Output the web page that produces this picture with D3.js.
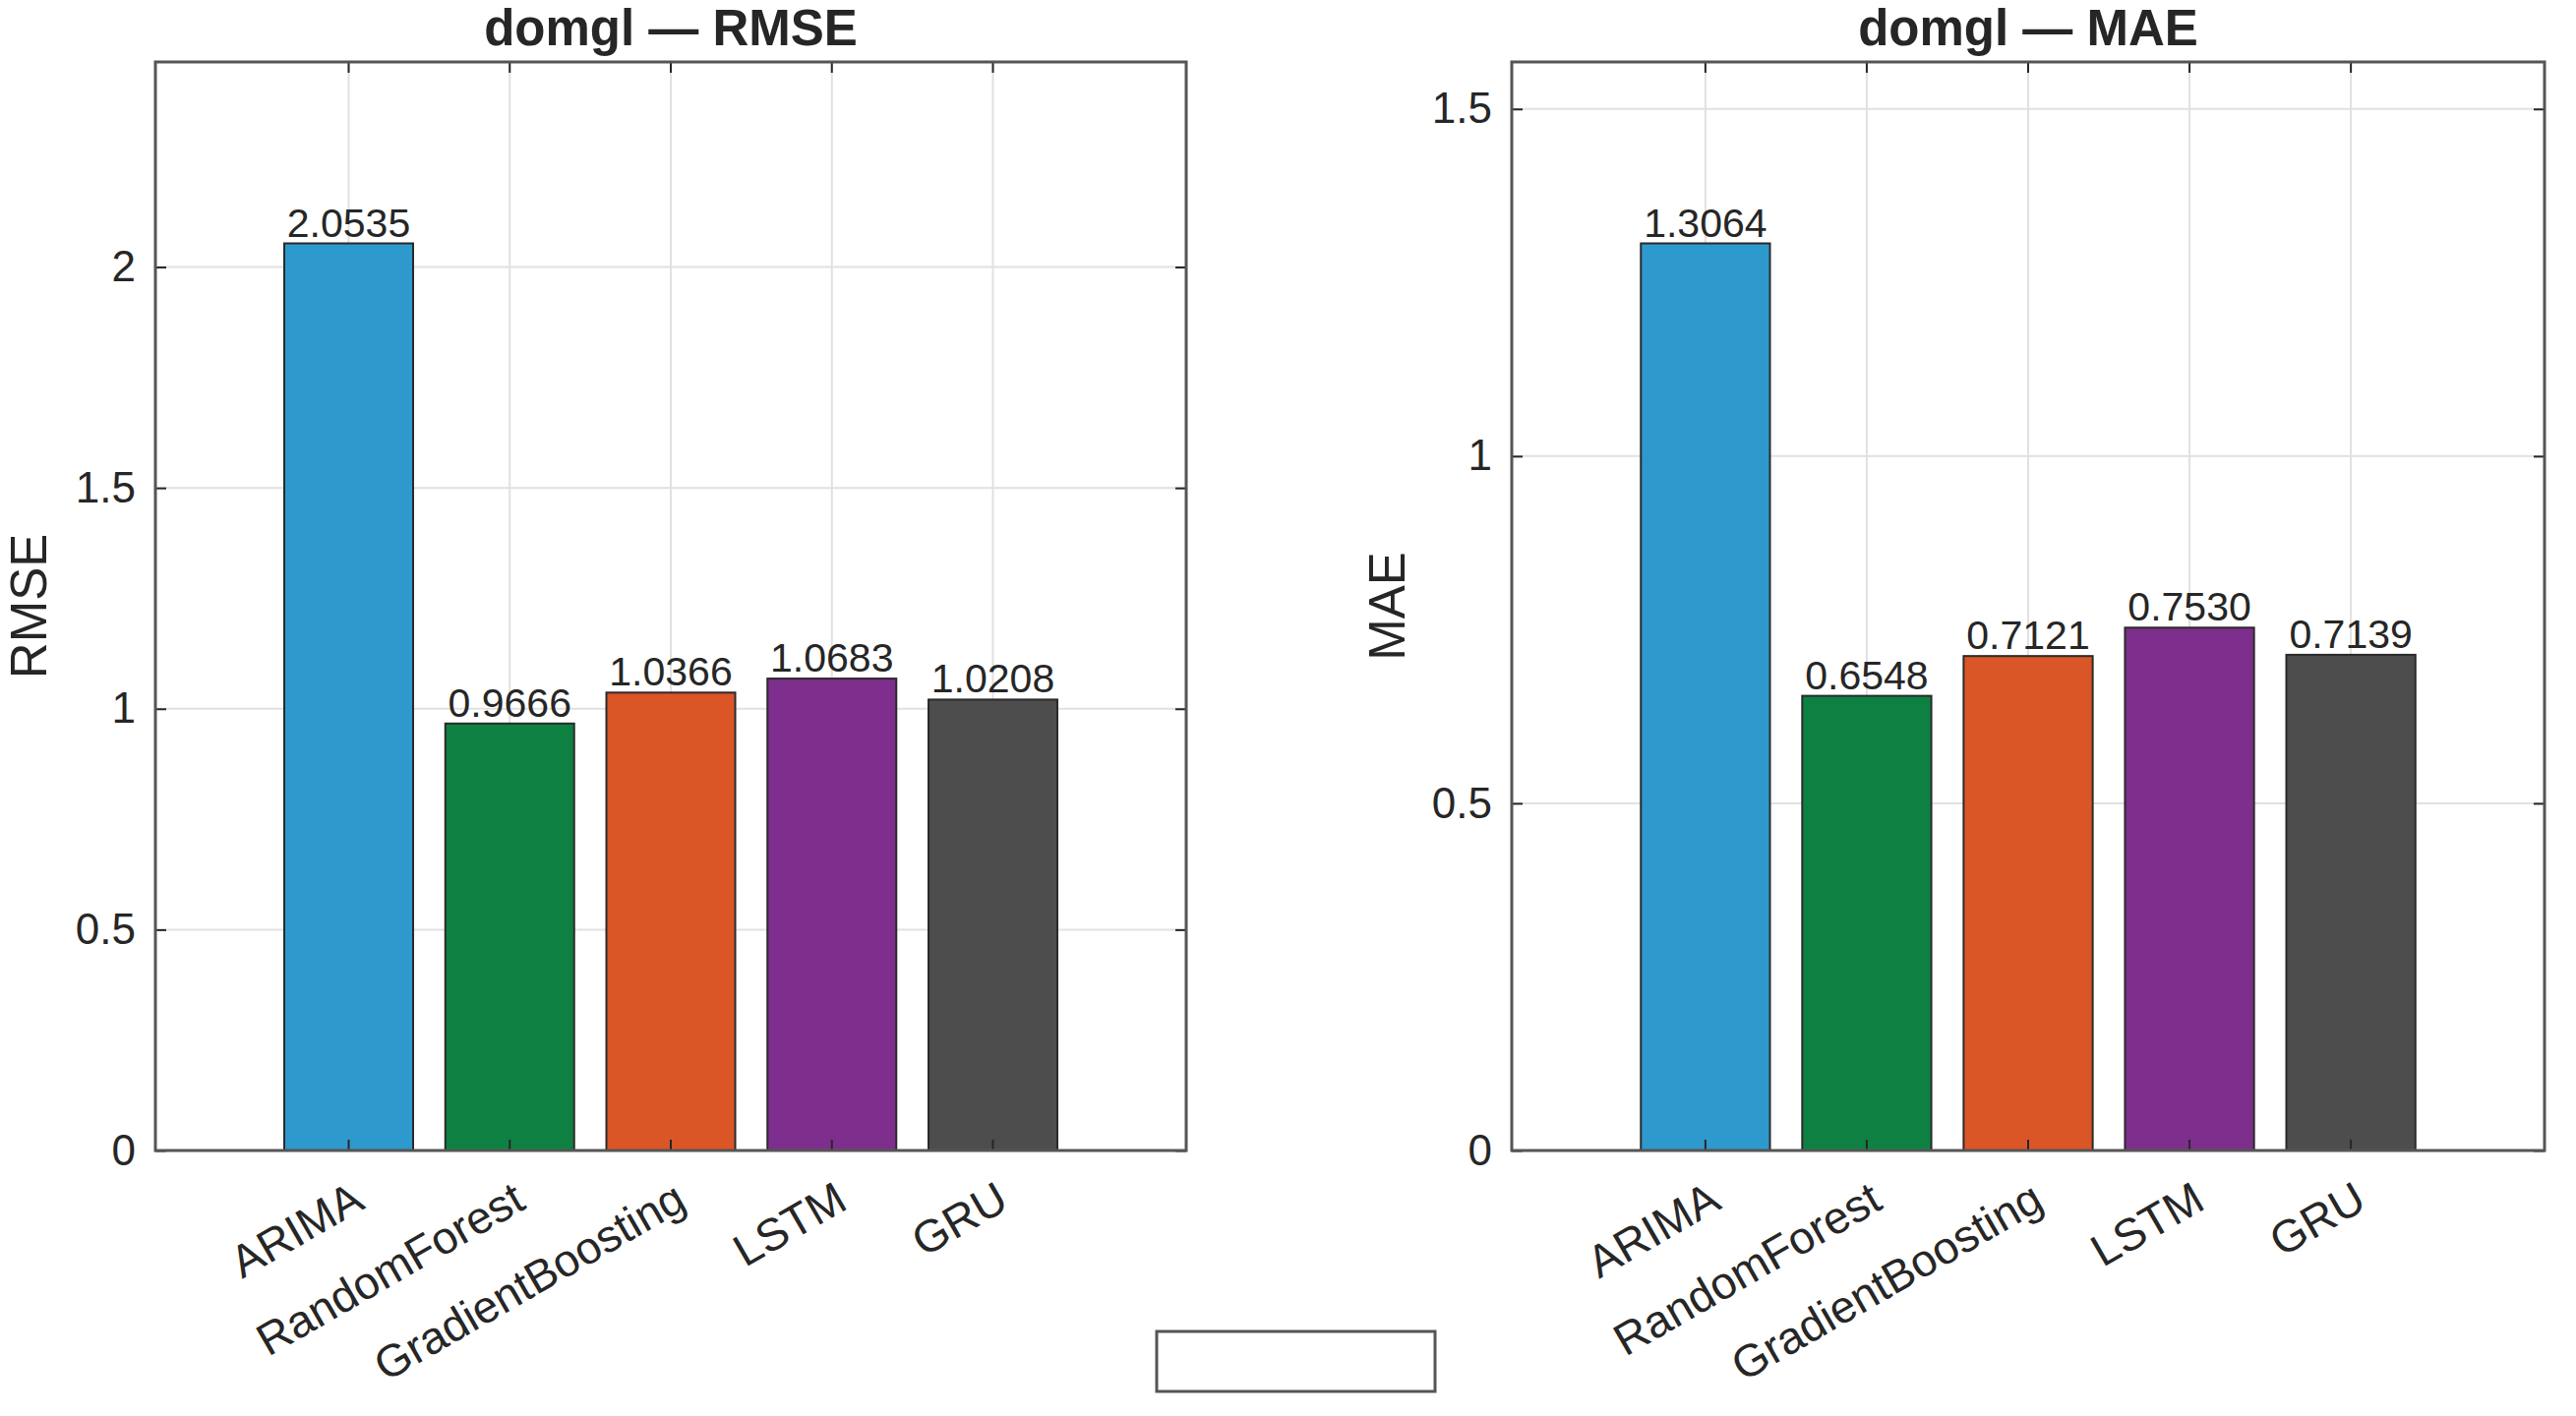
<!DOCTYPE html>
<html>
<head>
<meta charset="utf-8">
<script src="https://cdn.jsdelivr.net/npm/d3@7"></script>
<style>
  body { margin: 0; background: #fff; }
  text { font-family: "Liberation Sans", Arial, Helvetica, sans-serif; fill: #262626; }
</style>
</head>
<body>
<script>
// models compared
var models = ["ARIMA", "RandomForest", "GradientBoosting", "LSTM", "GRU"];

// metric values per model
var rmseValues = [2.0535, 0.9666, 1.0366, 1.0683, 1.0208];
var maeValues = [1.3064, 0.6548, 0.7121, 0.7530, 0.7139];

// y tick values
var rmseTicks = [0, 0.5, 1, 1.5, 2];
var maeTicks = [0, 0.5, 1, 1.5];

var barColors = ["#2e99cd", "#0e8142", "#da5626", "#7e2e8d", "#4d4d4d"];

//Width and height
var w = 2619;
var h = 1440;

var svg = d3.select("body")
            .append("svg")
            .attr("width", w)
            .attr("height", h);

var panels = [
  { name: "RMSE", values: rmseValues, ticks: rmseTicks, left: 158, right: 1206, labelX: 47 },
  { name: "MAE", values: maeValues, ticks: maeTicks, left: 1537, right: 2587, labelX: 1428 }
];
var plotTop = 63, plotBottom = 1170;

panels.forEach(function(p) {
    var g = svg.append("g");

    var xScale = d3.scaleBand()
                   .domain(models)
                   .range([p.left, p.right])
                   .paddingInner(0.2)
                   .paddingOuter(0.8);

    var yScale = d3.scaleLinear()
                   .domain([0, d3.max(p.values) * 1.2])
                   .range([plotBottom, plotTop]);

    //grid
    g.selectAll(".hgrid")
     .data(p.ticks)
     .enter()
     .append("line")
     .attr("x1", p.left).attr("x2", p.right)
     .attr("y1", function(d) { return yScale(d); })
     .attr("y2", function(d) { return yScale(d); })
     .attr("stroke", "#e1e1e1")
     .attr("stroke-width", 2);

    g.selectAll(".vgrid")
     .data(models)
     .enter()
     .append("line")
     .attr("x1", function(d) { return xScale(d) + xScale.bandwidth() / 2; })
     .attr("x2", function(d) { return xScale(d) + xScale.bandwidth() / 2; })
     .attr("y1", plotTop).attr("y2", plotBottom)
     .attr("stroke", "#e1e1e1")
     .attr("stroke-width", 2);

    //bars
    g.selectAll(".bar")
     .data(p.values)
     .enter()
     .append("rect")
     .attr("x", function(d, i) { return xScale(models[i]); })
     .attr("y", function(d) { return yScale(d); })
     .attr("width", xScale.bandwidth())
     .attr("height", function(d) { return plotBottom - yScale(d); })
     .attr("fill", function(d, i) { return barColors[i]; })
     .attr("stroke", "#2a2a2a")
     .attr("stroke-width", 2);

    //value labels
    g.selectAll(".val")
     .data(p.values)
     .enter()
     .append("text")
     .attr("x", function(d, i) { return xScale(models[i]) + xScale.bandwidth() / 2; })
     .attr("y", function(d) { return yScale(d) - 7; })
     .attr("text-anchor", "middle")
     .style("font-size", "41px")
     .text(function(d) { return d.toFixed(4); });

    //axes: left/bottom with labels, top/right ticks only
    var yAxis = d3.axisLeft(yScale).tickValues(p.ticks).tickSize(-11).tickPadding(20)
                  .tickFormat(function(d) { return d3.format("")(d); });
    var yAxisR = d3.axisRight(yScale).tickValues(p.ticks).tickSize(-11).tickFormat("");
    var xAxis = d3.axisBottom(xScale).tickSize(-11).tickFormat("");
    var xAxisT = d3.axisTop(xScale).tickSize(-11).tickFormat("");

    var ay = g.append("g").attr("transform", "translate(" + p.left + ",0)").call(yAxis);
    ay.selectAll("text").style("font-size", "44px").attr("fill", "#262626");
    g.append("g").attr("transform", "translate(" + p.right + ",0)").call(yAxisR);
    g.append("g").attr("transform", "translate(0," + plotBottom + ")").call(xAxis);
    g.append("g").attr("transform", "translate(0," + plotTop + ")").call(xAxisT);

    g.selectAll(".domain").remove();
    g.selectAll(".tick line").attr("stroke", "#262626").attr("stroke-width", 2);

    // box
    g.append("rect")
     .attr("x", p.left).attr("y", plotTop)
     .attr("width", p.right - p.left).attr("height", plotBottom - plotTop)
     .attr("fill", "none")
     .attr("stroke", "#555")
     .attr("stroke-width", 3);

    //rotated category labels
    g.selectAll(".xlab")
     .data(models)
     .enter()
     .append("text")
     .attr("transform", function(d) {
         return "translate(" + (xScale(d) + xScale.bandwidth() / 2 + 18) + "," + (plotBottom + 58) + ") rotate(-30)";
     })
     .attr("text-anchor", "end")
     .style("font-size", "46px")
     .text(function(d) { return d; });

    //title
    g.append("text")
     .attr("x", (p.left + p.right) / 2)
     .attr("y", 46)
     .attr("text-anchor", "middle")
     .style("font-size", "51px")
     .style("font-weight", "bold")
     .attr("fill", "#1a1a1a")
     .text("domgl \u2014 " + p.name);

    //y label
    g.append("text")
     .attr("transform", "translate(" + p.labelX + "," + ((plotTop + plotBottom) / 2) + ") rotate(-90)")
     .attr("text-anchor", "middle")
     .style("font-size", "51px")
     .text(p.name);
});

// empty box between the panels
svg.append("rect")
   .attr("x", 1176).attr("y", 1354)
   .attr("width", 283).attr("height", 61)
   .attr("fill", "#fff")
   .attr("stroke", "#555")
   .attr("stroke-width", 3);
</script>
</body>
</html>
